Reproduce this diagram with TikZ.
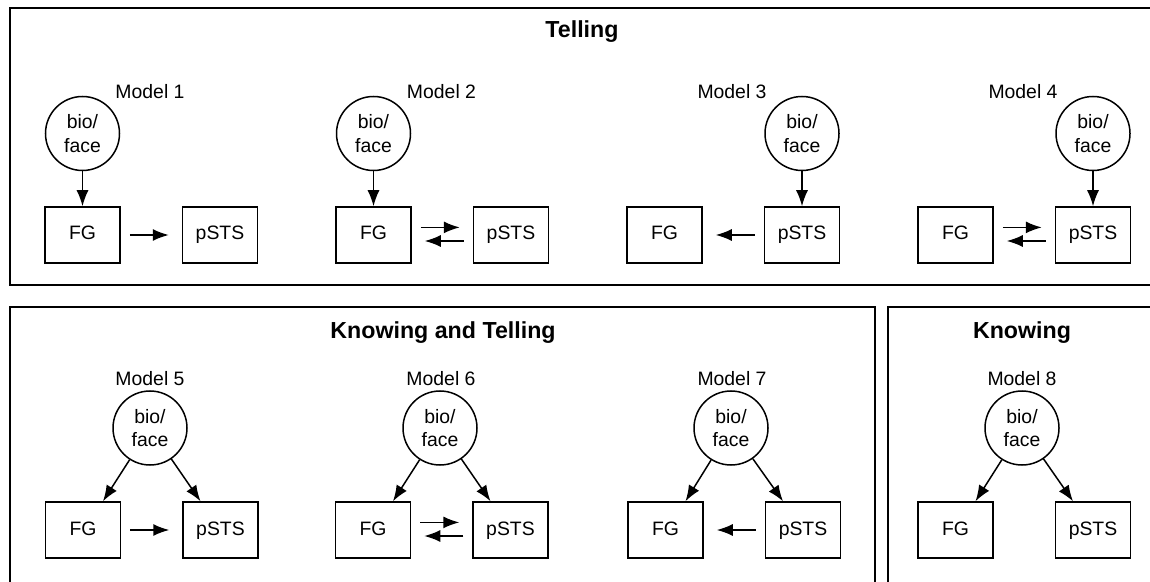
\documentclass[tikz,border=0pt]{standalone}
\usepackage{fontspec}
\setmainfont{Liberation Sans}
\usetikzlibrary{positioning,arrows.meta}

\begin{document}
\begin{tikzpicture}[>={Latex[length=8pt,width=6pt]}, x=0.5pt, y=-0.5pt,
    every node/.style={font=\fontsize{9.7}{11.6}\selectfont},
    box/.style={draw, line width=0.75pt, minimum width=37.5pt, minimum height=28pt, inner sep=0pt,
      text height=7pt, text depth=2pt},
    bio/.style={draw, circle, line width=0.75pt, minimum size=37pt, inner sep=0pt, align=center},
    title/.style={font=\fontsize{11.6}{14}\selectfont\bfseries},
    panel/.style={draw, line width=0.9pt},
    link/.style={->, line width=0.75pt, shorten <=4.5pt, shorten >=6.5pt}]
\useasboundingbox (0,0) rectangle (1150,582);

% panels
\draw[panel] (10,8) rectangle (1160,285);
\draw[panel] (10,307) rectangle (875,590);
\draw[panel] (888,307) rectangle (1160,590);
\node[title] (telling) at (582,32) {Telling};
\node[title] (knowtell) at (443,333) {Knowing and Telling};
\node[title] (knowing) at (1022,333) {Knowing};

% Model 1
\node[box] (fg1) at (82.5,235) {FG};
\node[box, right=30.5pt of fg1] (sts1) {pSTS};
\node[bio, above=17.5pt of fg1] (bio1) {bio/\\face};
\node (m1) at (150,92) {Model 1};
\draw[->, line width=0.75pt] (bio1) -- (fg1);
\draw[link] (fg1) -- (sts1);

% Model 2
\node[box] (fg2) at (373.5,235) {FG};
\node[box, right=30.5pt of fg2] (sts2) {pSTS};
\node[bio, above=17.5pt of fg2] (bio2) {bio/\\face};
\node (m2) at (441.5,92) {Model 2};
\draw[->, line width=0.75pt] (bio2) -- (fg2);
\draw[link] ([yshift=3.8pt]fg2.east) -- ([yshift=3.8pt]sts2.west);
\draw[link] ([yshift=-3pt]sts2.west) -- ([yshift=-3pt]fg2.east);

% Model 3
\node[box] (fg3) at (664.5,235) {FG};
\node[box, right=30.5pt of fg3] (sts3) {pSTS};
\node[bio, above=17.5pt of sts3] (bio3) {bio/\\face};
\node (m3) at (732,92) {Model 3};
\draw[->, line width=0.75pt] (bio3) -- (sts3);
\draw[link] (sts3) -- (fg3);

% Model 4
\node[box] (fg4) at (955.5,235) {FG};
\node[box, right=30.5pt of fg4] (sts4) {pSTS};
\node[bio, above=17.5pt of sts4] (bio4) {bio/\\face};
\node (m4) at (1023,92) {Model 4};
\draw[->, line width=0.75pt] (bio4) -- (sts4);
\draw[link] ([yshift=3.8pt]fg4.east) -- ([yshift=3.8pt]sts4.west);
\draw[link] ([yshift=-3pt]sts4.west) -- ([yshift=-3pt]fg4.east);

% Model 5
\node[box] (fg5) at (83,530) {FG};
\node[box, right=30.5pt of fg5] (sts5) {pSTS};
\node[bio] (bio5) at (150,428) {bio/\\face};
\node (m5) at (150,379) {Model 5};
\draw[->, line width=0.75pt] (bio5) -- ([xshift=10pt]fg5.north);
\draw[->, line width=0.75pt] (bio5) -- ([xshift=-10pt]sts5.north);
\draw[link] (fg5) -- (sts5);

% Model 6
\node[box] (fg6) at (373,530) {FG};
\node[box, right=30.5pt of fg6] (sts6) {pSTS};
\node[bio] (bio6) at (440,428) {bio/\\face};
\node (m6) at (441,379) {Model 6};
\draw[->, line width=0.75pt] (bio6) -- ([xshift=10pt]fg6.north);
\draw[->, line width=0.75pt] (bio6) -- ([xshift=-10pt]sts6.north);
\draw[link] ([yshift=3.8pt]fg6.east) -- ([yshift=3.8pt]sts6.west);
\draw[link] ([yshift=-3pt]sts6.west) -- ([yshift=-3pt]fg6.east);

% Model 7
\node[box] (fg7) at (665.5,530) {FG};
\node[box, right=30.5pt of fg7] (sts7) {pSTS};
\node[bio] (bio7) at (731,428) {bio/\\face};
\node (m7) at (732,379) {Model 7};
\draw[->, line width=0.75pt] (bio7) -- ([xshift=10pt]fg7.north);
\draw[->, line width=0.75pt] (bio7) -- ([xshift=-10pt]sts7.north);
\draw[link] (sts7) -- (fg7);

% Model 8
\node[box] (fg8) at (955.5,530) {FG};
\node[box, right=30.5pt of fg8] (sts8) {pSTS};
\node[bio] (bio8) at (1022,428) {bio/\\face};
\node (m8) at (1022,379) {Model 8};
\draw[->, line width=0.75pt] (bio8) -- ([xshift=10pt]fg8.north);
\draw[->, line width=0.75pt] (bio8) -- ([xshift=-10pt]sts8.north);

\end{tikzpicture}
\end{document}
